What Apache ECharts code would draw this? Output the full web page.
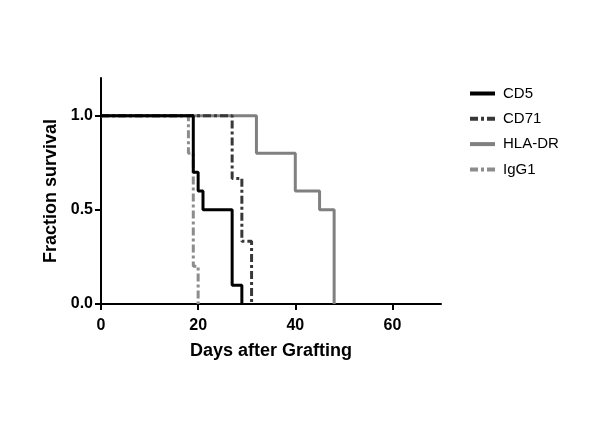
<!DOCTYPE html>
<html>
<head>
<meta charset="utf-8">
<script src="https://cdn.jsdelivr.net/npm/echarts@6/dist/echarts.min.js"></script>
<style>html,body{margin:0;padding:0;background:#fff}#c{width:600px;height:424px}</style>
</head>
<body>
<div id="c"></div>
<script>
var seriesNames = ['CD5', 'CD71', 'HLA-DR', 'IgG1'];
var cd5 = [[0, 1], [19, 0.7], [20, 0.6], [21, 0.5], [27, 0.1], [29, 0]];
var cd71 = [[0, 1], [27, 0.667], [29, 0.333], [31, 0]];
var hladr = [[0, 1], [32, 0.8], [40, 0.6], [45, 0.5], [48, 0]];
var igg1 = [[0, 1], [18, 0.8], [19, 0.2], [20, 0]];
var xTicks = [0, 20, 40, 60];
var yTicks = [0, 0.5, 1.0];

var font = 'Liberation Sans, Arial, sans-serif';
var chart = echarts.init(document.getElementById('c'));
function s(name, data, color, type) {
  return {
    name: name, type: 'line', step: 'end', data: data, symbol: 'none',
    lineStyle: {color: color, width: 3, type: type},
    itemStyle: {color: color},
    emphasis: {disabled: true}, animation: false
  };
}
chart.setOption({
  animation: false,
  grid: {left: 101, right: 159, top: 78, bottom: 120, containLabel: false},
  legend: {
    data: seriesNames, orient: 'vertical', left: 463, top: 81,
    itemWidth: 25, itemHeight: 15, itemGap: 10.3,
    itemStyle: {opacity: 0},
    lineStyle: {width: 4},
    textStyle: {fontFamily: font, fontSize: 15, color: '#000', padding: [0, 0, 0, 3]},
    selectedMode: false
  },
  xAxis: {
    type: 'value', min: 0, max: 70,
    name: 'Days after Grafting', nameLocation: 'middle', nameGap: 38,
    nameTextStyle: {fontFamily: font, fontSize: 18, fontWeight: 'bold', color: '#000'},
    axisLine: {show: true, lineStyle: {color: '#000', width: 2}},
    axisTick: {show: true, length: 6, lineStyle: {color: '#000', width: 2}, customValues: xTicks},
    axisLabel: {fontFamily: font, fontSize: 16, fontWeight: 'bold', color: '#000', margin: 14, customValues: xTicks},
    splitLine: {show: false}
  },
  yAxis: {
    type: 'value', min: 0, max: 1.2,
    name: 'Fraction survival', nameLocation: 'middle', nameGap: 34,
    nameTextStyle: {fontFamily: font, fontSize: 18, fontWeight: 'bold', color: '#000'},
    axisLine: {show: true, lineStyle: {color: '#000', width: 2}},
    axisTick: {show: true, length: 6, lineStyle: {color: '#000', width: 2}, customValues: yTicks},
    axisLabel: {fontFamily: font, fontSize: 16, fontWeight: 'bold', color: '#000', margin: 8, customValues: yTicks,
      formatter: function (v) { return v.toFixed(1); }},
    splitLine: {show: false}
  },
  series: [
    s('HLA-DR', hladr, '#808080', 'solid'),
    s('IgG1', igg1, '#8c8c8c', [8, 3, 3, 3]),
    s('CD71', cd71, '#383838', [8, 3, 3, 3]),
    s('CD5', cd5, '#000000', 'solid')
  ]
});
</script>
</body>
</html>
